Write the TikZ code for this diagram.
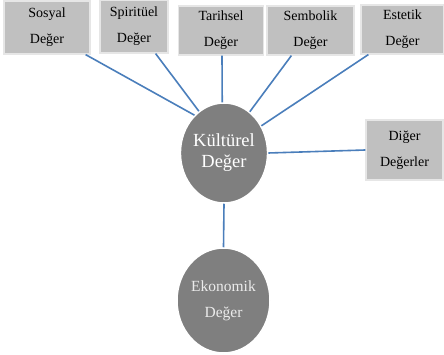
\documentclass[tikz,border=0pt]{standalone}
\usepackage{fontspec}
\setmainfont{Liberation Serif}
\usetikzlibrary{shapes.geometric}
\definecolor{boxgray}{HTML}{C0C0C0}
\definecolor{boxedge}{HTML}{E6E6E6}
\definecolor{circgray}{HTML}{7F7F7F}
\definecolor{linkblue}{HTML}{4A7EBB}
\tikzset{
  valbox/.style={rectangle, fill=boxgray, draw=boxedge, line width=1.2pt, inner sep=0pt,
    align=center, text=black, font=\fontsize{14}{26}\selectfont},
  valcirc/.style={ellipse, fill=circgray, draw=white, line width=1.5pt, inner sep=0pt},
  link/.style={draw=linkblue, line width=1.6pt}
}
\begin{document}
\begin{tikzpicture}[x=1pt,y=-1pt]
\useasboundingbox[fill=white] (0,0) rectangle (444,355);
\node[valbox, minimum width=86pt, minimum height=53pt] (sosyal) at (47,27.5) {Sosyal\\Değer};
\node[valbox, minimum width=68pt, minimum height=53pt] (spirit) at (134,26.5) {Spiritüel\\Değer};
\node[valbox, minimum width=85pt, minimum height=49pt] (tarih) at (221,30.5) {Tarihsel\\Değer};
\node[valbox, minimum width=87pt, minimum height=49pt] (sembol) at (310.5,30.5) {Sembolik\\Değer};
\node[valbox, minimum width=83pt, minimum height=49pt] (estetik) at (402.5,29.5) {Estetik\\Değer};
\node[valbox, minimum width=77pt, minimum height=60pt] (diger) at (404.5,150) {Diğer\\Değerler};
\node[valcirc, minimum width=86pt, minimum height=100pt, align=center, text=white,
  font=\fontsize{18.5}{21}\selectfont] (kult) at (224,153) {Kültürel\\Değer};
\node[valcirc, minimum width=93pt, minimum height=105pt, align=center, text=white!92!black,
  font=\fontsize{15.5}{26}\selectfont] (ekon) at (223.5,300.5) {Ekonomik\\Değer};
\draw[link] ([xshift=-5pt]sosyal.south east) -- (kult.128);
\draw[link] ([xshift=-13pt]spirit.south east) -- (kult.121);
\draw[link] ([xshift=1pt]tarih.south) -- (kult.92);
\draw[link] ([xshift=25pt]sembol.south west) -- (kult.58);
\draw[link] ([xshift=8pt]estetik.south west) -- (kult.36);
\draw[link] (kult.east) -- (diger.west);
\draw[link] (kult.south) -- (ekon.north);
\end{tikzpicture}
\end{document}
